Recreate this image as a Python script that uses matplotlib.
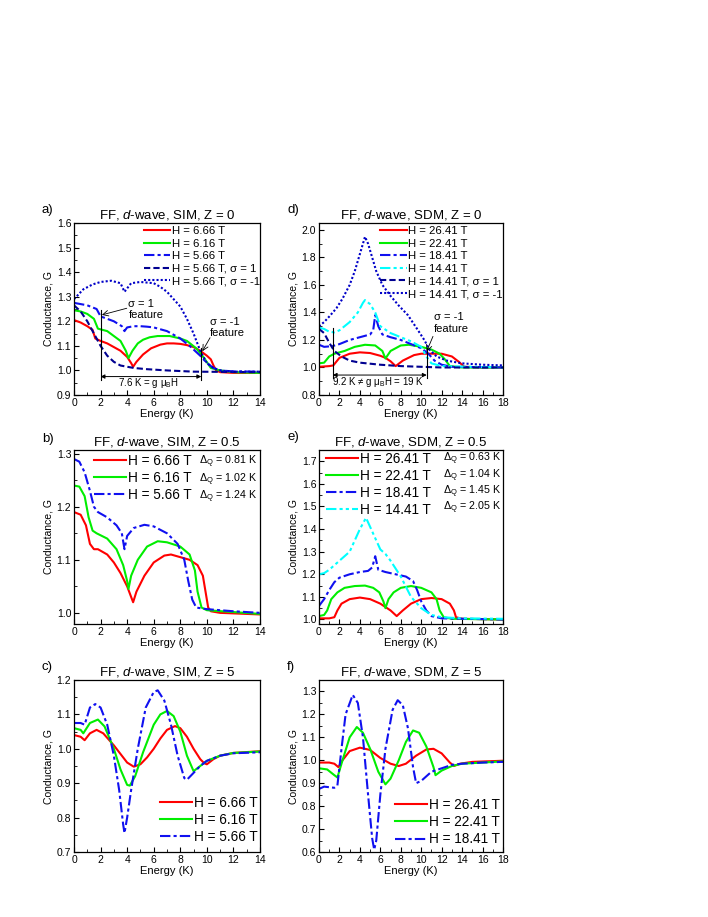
import numpy as np
import matplotlib
matplotlib.use("Agg")
import matplotlib.pyplot as plt
from matplotlib.ticker import MultipleLocator

plt.rcParams['font.family'] = ['Liberation Sans', 'DejaVu Sans']
plt.rcParams['mathtext.fontset'] = 'custom'
plt.rcParams['mathtext.rm'] = 'Liberation Sans'
plt.rcParams['mathtext.it'] = 'Liberation Sans:italic'

# ---------------- data ----------------
# panel a: SIM, Z = 0
a_red_x = [0, 0.5, 1.0, 1.4, 1.6, 2.0, 2.5, 3.0, 3.5, 4.0, 4.3, 4.45, 4.7, 5.2, 5.8, 6.5, 7.0, 7.5, 8.0, 8.5, 9.0, 9.5, 10.0, 10.3, 10.5, 10.7, 11.0, 12, 13, 14]
a_red_y = [1.205, 1.195, 1.18, 1.165, 1.13, 1.12, 1.11, 1.095, 1.08, 1.055, 1.03, 1.015, 1.035, 1.065, 1.09, 1.105, 1.11, 1.11, 1.108, 1.103, 1.095, 1.08, 1.06, 1.045, 1.02, 1.0, 0.993, 0.99, 0.99, 0.99]
a_grn_x = [0, 0.5, 1.0, 1.5, 1.8, 2.5, 3.0, 3.5, 3.9, 4.1, 4.4, 4.8, 5.2, 5.7, 6.3, 7.2, 8.0, 8.5, 9.2, 9.8, 10.3, 11, 12, 14]
a_grn_y = [1.245, 1.24, 1.23, 1.21, 1.17, 1.16, 1.14, 1.12, 1.08, 1.05, 1.08, 1.11, 1.125, 1.135, 1.14, 1.14, 1.13, 1.12, 1.09, 1.05, 1.01, 1.0, 0.993, 0.99]
a_blu_x = [0, 0.5, 1.0, 1.7, 2.0, 2.5, 3.0, 3.6, 3.8, 4.0, 4.5, 5.0, 5.5, 6.0, 7.0, 8.0, 8.7, 9.5, 10.0, 10.5, 11, 12, 14]
a_blu_y = [1.275, 1.27, 1.265, 1.25, 1.22, 1.21, 1.2, 1.18, 1.16, 1.175, 1.18, 1.18, 1.178, 1.175, 1.16, 1.13, 1.1, 1.06, 1.03, 1.01, 1.0, 0.996, 0.995]
a_s1_x = [0, 0.5, 1.0, 1.5, 2.0, 2.5, 3.0, 3.5, 4.5, 5.5, 7.0, 9.0, 14]
a_s1_y = [1.265, 1.24, 1.2, 1.15, 1.1, 1.06, 1.035, 1.02, 1.01, 1.005, 1.0, 0.995, 0.993]
a_sm1_x = [0, 0.7, 1.4, 2.0, 2.8, 3.5, 3.8, 4.3, 5.0, 6.0, 6.5, 7.0, 7.5, 8.0, 8.5, 9.0, 9.5, 10.0, 10.5, 11.0, 12, 14]
a_sm1_y = [1.29, 1.33, 1.35, 1.36, 1.365, 1.355, 1.32, 1.355, 1.36, 1.355, 1.34, 1.32, 1.29, 1.26, 1.21, 1.15, 1.08, 1.03, 1.01, 1.0, 0.995, 0.995]
a_labels = ['H = 6.66 T', 'H = 6.16 T', 'H = 5.66 T', 'H = 5.66 T, σ = 1', 'H = 5.66 T, σ = -1']

# panel d: SDM, Z = 0
d_red_x = [0, 1.0, 1.4, 2.0, 3.0, 4.0, 5.0, 6.0, 6.5, 7.0, 7.5, 8.2, 9.3, 10.0, 11.0, 12.0, 13.0, 13.7, 14.2, 16, 18]
d_red_y = [1.005, 1.01, 1.015, 1.07, 1.1, 1.11, 1.105, 1.085, 1.07, 1.045, 1.01, 1.05, 1.09, 1.1, 1.1, 1.1, 1.08, 1.04, 1.005, 1.0, 1.0]
d_grn_x = [0, 0.5, 1.0, 1.5, 2.5, 3.5, 4.5, 5.5, 6.2, 6.5, 7.0, 8.0, 8.8, 10.0, 11.0, 11.8, 12.3, 12.8, 14, 18]
d_grn_y = [1.03, 1.035, 1.08, 1.1, 1.12, 1.15, 1.165, 1.16, 1.12, 1.065, 1.12, 1.16, 1.165, 1.15, 1.13, 1.1, 1.06, 1.01, 1.0, 1.0]
d_blu_x = [0, 0.5, 1.3, 2.0, 3.0, 4.0, 5.0, 5.3, 5.5, 5.8, 6.2, 7.0, 8.0, 9.0, 10.0, 10.7, 11.3, 12.0, 13.0, 18]
d_blu_y = [1.165, 1.15, 1.155, 1.17, 1.2, 1.22, 1.24, 1.27, 1.38, 1.3, 1.24, 1.22, 1.2, 1.17, 1.14, 1.1, 1.05, 1.02, 1.005, 1.0]
d_cyn_x = [0, 0.5, 1.0, 1.5, 2.0, 3.0, 3.8, 4.3, 4.5, 5.0, 5.5, 6.0, 7.0, 8.0, 9.0, 10.0, 10.5, 11.0, 12.0, 18]
d_cyn_y = [1.29, 1.28, 1.26, 1.255, 1.27, 1.33, 1.4, 1.47, 1.49, 1.46, 1.4, 1.3, 1.25, 1.22, 1.19, 1.15, 1.08, 1.03, 1.01, 1.0]
d_s1_x = [0, 0.5, 1.0, 1.5, 2.2, 3.0, 4.0, 6.0, 8.0, 10.0, 12, 18]
d_s1_y = [1.28, 1.25, 1.18, 1.12, 1.08, 1.05, 1.035, 1.02, 1.01, 1.005, 1.0, 1.0]
d_sm1_x = [0, 0.5, 1.0, 1.7, 2.3, 3.0, 3.5, 3.9, 4.3, 4.5, 4.8, 5.2, 5.6, 6.2, 7.0, 7.8, 8.7, 9.6, 10.3, 10.8, 11.5, 12.5, 14, 16, 18]
d_sm1_y = [1.3, 1.33, 1.37, 1.43, 1.5, 1.6, 1.7, 1.8, 1.9, 1.95, 1.9, 1.8, 1.7, 1.6, 1.52, 1.45, 1.38, 1.28, 1.2, 1.13, 1.08, 1.05, 1.03, 1.02, 1.015]
d_labels = ['H = 26.41 T', 'H = 22.41 T', 'H = 18.41 T', 'H = 14.41 T', 'H = 14.41 T, σ = 1', 'H = 14.41 T, σ = -1']

# panel b: SIM, Z = 0.5
b_red_x = [0, 0.5, 0.9, 1.2, 1.5, 1.8, 2.5, 3.0, 3.5, 4.0, 4.3, 4.45, 4.7, 5.3, 6.0, 6.8, 7.3, 8.0, 8.7, 9.3, 9.7, 9.9, 10.1, 10.3, 11, 14]
b_red_y = [1.19, 1.185, 1.165, 1.13, 1.12, 1.12, 1.11, 1.095, 1.075, 1.05, 1.03, 1.02, 1.04, 1.07, 1.095, 1.108, 1.11, 1.105, 1.1, 1.09, 1.07, 1.04, 1.01, 1.003, 1.0, 0.997]
b_grn_x = [0, 0.4, 0.8, 1.1, 1.4, 1.7, 2.5, 3.2, 3.7, 4.0, 4.1, 4.3, 4.8, 5.5, 6.3, 7.0, 8.0, 8.7, 9.1, 9.3, 9.6, 10.0, 14]
b_grn_y = [1.24, 1.238, 1.22, 1.18, 1.155, 1.15, 1.14, 1.12, 1.09, 1.06, 1.045, 1.07, 1.1, 1.125, 1.135, 1.133, 1.125, 1.11, 1.08, 1.04, 1.01, 1.005, 0.998]
b_blu_x = [0, 0.4, 0.8, 1.2, 1.5, 1.8, 2.5, 3.2, 3.6, 3.8, 4.0, 4.5, 5.3, 6.0, 7.0, 7.8, 8.3, 8.6, 8.9, 9.2, 10.0, 12.0, 14]
b_blu_y = [1.29, 1.285, 1.265, 1.23, 1.2, 1.19, 1.18, 1.165, 1.15, 1.12, 1.145, 1.16, 1.166, 1.163, 1.15, 1.13, 1.1, 1.06, 1.025, 1.01, 1.007, 1.003, 1.0]
b_labels = ['H = 6.66 T', 'H = 6.16 T', 'H = 5.66 T']
b_gaps = ['0.81', '1.02', '1.24']

# panel e: SDM, Z = 0.5
e_red_x = [0, 1.0, 1.5, 1.8, 2.2, 3.0, 4.0, 5.0, 6.0, 7.0, 7.6, 8.2, 9.0, 10.0, 11.0, 12.0, 12.8, 13.2, 13.4, 14.0, 18]
e_red_y = [1.005, 1.005, 1.01, 1.04, 1.07, 1.09, 1.097, 1.09, 1.07, 1.04, 1.015, 1.04, 1.07, 1.09, 1.095, 1.09, 1.07, 1.04, 1.01, 1.003, 1.0]
e_grn_x = [0, 0.5, 0.8, 1.2, 1.8, 2.5, 3.5, 4.5, 5.3, 5.9, 6.3, 6.5, 6.8, 7.3, 8.0, 9.0, 10.0, 11.0, 11.5, 11.8, 12.2, 13.0, 18]
e_grn_y = [1.015, 1.02, 1.04, 1.09, 1.12, 1.14, 1.148, 1.15, 1.14, 1.12, 1.08, 1.05, 1.09, 1.12, 1.14, 1.148, 1.14, 1.12, 1.09, 1.04, 1.01, 1.003, 1.0]
e_blu_x = [0, 0.5, 1.0, 1.5, 2.0, 3.0, 4.0, 4.8, 5.2, 5.5, 5.8, 6.5, 7.5, 8.5, 9.2, 9.6, 10.0, 10.5, 11.0, 12.0, 18]
e_blu_y = [1.06, 1.09, 1.13, 1.165, 1.185, 1.2, 1.21, 1.215, 1.23, 1.28, 1.22, 1.21, 1.2, 1.19, 1.17, 1.13, 1.08, 1.04, 1.015, 1.005, 1.0]
e_cyn_x = [0, 0.5, 1.0, 2.0, 3.0, 4.0, 4.6, 5.2, 6.0, 6.5, 7.0, 8.0, 9.0, 10.0, 11.0, 12.0, 14.0, 18]
e_cyn_y = [1.2, 1.205, 1.22, 1.26, 1.3, 1.4, 1.45, 1.39, 1.31, 1.29, 1.26, 1.19, 1.1, 1.05, 1.02, 1.01, 1.005, 1.003]
e_labels = ['H = 26.41 T', 'H = 22.41 T', 'H = 18.41 T', 'H = 14.41 T']
e_gaps = ['0.63', '1.04', '1.45', '2.05']

# panel c: SIM, Z = 5
c_red_x = [0, 0.5, 0.8, 1.2, 1.7, 2.2, 3.0, 3.5, 4.0, 4.5, 5.0, 5.5, 6.0, 6.5, 7.0, 7.6, 8.0, 8.5, 9.0, 9.5, 9.8, 10.0, 10.5, 11.0, 12.0, 14.0]
c_red_y = [1.04, 1.035, 1.025, 1.045, 1.055, 1.045, 1.01, 0.985, 0.96, 0.948, 0.955, 0.975, 1.0, 1.03, 1.055, 1.066, 1.06, 1.035, 1.0, 0.97, 0.958, 0.955, 0.97, 0.98, 0.988, 0.993]
c_grn_x = [0, 0.5, 0.7, 1.2, 1.8, 2.3, 3.0, 3.5, 4.0, 4.2, 4.6, 5.2, 6.0, 6.5, 7.0, 7.5, 8.0, 8.5, 9.0, 9.5, 10.0, 11.0, 12.0, 14.0]
c_grn_y = [1.06, 1.055, 1.045, 1.075, 1.085, 1.065, 1.0, 0.94, 0.895, 0.893, 0.92, 0.99, 1.07, 1.1, 1.11, 1.095, 1.05, 0.98, 0.935, 0.95, 0.965, 0.98, 0.988, 0.992]
c_blu_x = [0, 0.5, 0.8, 1.2, 1.6, 2.0, 2.5, 3.0, 3.4, 3.7, 3.8, 4.0, 4.3, 4.8, 5.4, 6.0, 6.3, 6.8, 7.3, 7.8, 8.3, 8.5, 9.0, 9.5, 10.0, 11.0, 12.0, 14.0]
c_blu_y = [1.075, 1.075, 1.07, 1.12, 1.13, 1.12, 1.07, 0.98, 0.88, 0.78, 0.755, 0.8, 0.88, 1.0, 1.12, 1.165, 1.17, 1.14, 1.07, 0.98, 0.915, 0.91, 0.93, 0.95, 0.965, 0.98, 0.987, 0.99]

# panel f: SDM, Z = 5
f_red_x = [0, 1.0, 1.5, 1.9, 2.3, 3.0, 4.0, 5.0, 6.0, 7.0, 7.8, 8.5, 9.5, 10.5, 11.2, 12.0, 12.8, 13.2, 13.8, 15.0, 18]
f_red_y = [0.99, 0.99, 0.985, 0.97, 1.0, 1.04, 1.055, 1.045, 1.01, 0.985, 0.975, 0.985, 1.02, 1.047, 1.05, 1.03, 0.99, 0.975, 0.985, 0.993, 0.998]
f_grn_x = [0, 0.8, 1.5, 1.8, 2.3, 3.0, 3.7, 4.3, 5.0, 5.8, 6.5, 7.0, 7.8, 8.5, 9.2, 9.8, 10.5, 11.2, 11.4, 12.0, 13.0, 14.0, 16.0, 18]
f_grn_y = [0.965, 0.96, 0.935, 0.925, 1.0, 1.1, 1.145, 1.12, 1.05, 0.95, 0.895, 0.92, 1.0, 1.08, 1.13, 1.12, 1.06, 0.97, 0.935, 0.955, 0.975, 0.985, 0.99, 0.995]
f_blu_x = [0, 0.5, 1.5, 1.8, 2.2, 2.6, 3.3, 3.8, 4.3, 4.8, 5.2, 5.4, 5.6, 6.0, 6.5, 7.2, 7.7, 8.2, 8.7, 9.2, 9.5, 10.0, 10.5, 11.0, 12.0, 13.0, 14.0, 16.0, 18]
f_blu_y = [0.875, 0.885, 0.88, 0.89, 1.05, 1.2, 1.285, 1.25, 1.1, 0.85, 0.66, 0.61, 0.65, 0.85, 1.05, 1.22, 1.262, 1.24, 1.14, 0.97, 0.9, 0.91, 0.93, 0.95, 0.965, 0.98, 0.985, 0.99, 0.993]

# ---------------- styles ----------------
RED = '#ff0000'
GRN = '#00ee00'
BLU = '#1010f0'
CYN = '#00ffff'
NAVY = '#000090'
DOT = '#0000c8'
LW = 1.5
DASHDOT = (5, 1.5, 1.5, 1.5)
DASHDOTDOT = (5, 1.5, 1.5, 1.5, 1.5, 1.5)
DASH = (3, 1.5)
DOTS = (1, 1)

W, H = 708, 917
fig = plt.figure(figsize=(W / 100, H / 100), dpi=100)


def make_axes(px_left, px_right, px_top, px_bottom):
    return fig.add_axes([px_left / W, 1 - px_bottom / H,
                         (px_right - px_left) / W, (px_bottom - px_top) / H])


def style(ax, xmax, ylim, ymajor, yminor, title, letter, lx, ly):
    ax.set_xlim(0, xmax)
    ax.set_ylim(*ylim)
    ax.xaxis.set_major_locator(MultipleLocator(2))
    ax.xaxis.set_minor_locator(MultipleLocator(1))
    ax.yaxis.set_major_locator(MultipleLocator(ymajor))
    ax.yaxis.set_minor_locator(MultipleLocator(yminor))
    ax.tick_params(which='both', direction='in', top=False, right=False, labelsize=7.5, pad=2)
    ax.tick_params(which='major', length=3.5, width=0.8)
    ax.tick_params(which='minor', length=2, width=0.6)
    for s in ax.spines.values():
        s.set_linewidth(0.9)
    ax.set_xlabel('Energy (K)', fontsize=8, labelpad=1)
    ax.set_ylabel('Conductance, G', fontsize=7.5, labelpad=2)
    ax.set_title(title, fontsize=9.5, pad=3)
    fig.text(lx / W, 1 - ly / H, letter, fontsize=9.5, ha='left', va='center')


def small_legend(ax):
    ax.legend(loc='upper right', bbox_to_anchor=(1.0, 0.983), frameon=False, fontsize=8.2,
              handlelength=2.3, handletextpad=0.15, labelspacing=0.23,
              borderaxespad=0, borderpad=0)


def big_legend(ax, loc, anchor):
    ax.legend(loc=loc, bbox_to_anchor=anchor, frameon=False, fontsize=9.8,
              handlelength=2.35, handletextpad=0.17, labelspacing=0.23,
              borderaxespad=0, borderpad=0)


col1 = (74, 260)
col2 = (319, 503)
row1 = (223, 395)
row2 = (450, 624)
row3 = (680, 852)
arrow_kw = dict(arrowstyle='->', lw=0.6, color='k', shrinkA=0, shrinkB=0)
span_kw = dict(arrowstyle='<|-|>', lw=0.7, color='k', mutation_scale=6, shrinkA=0, shrinkB=0)

# ---------------- a ----------------
ax = make_axes(col1[0], col1[1], row1[0], row1[1])
ax.plot(a_red_x, a_red_y, color=RED, lw=LW, label=a_labels[0])
ax.plot(a_grn_x, a_grn_y, color=GRN, lw=LW, label=a_labels[1])
ax.plot(a_blu_x, a_blu_y, color=BLU, lw=LW, dashes=DASHDOT, label=a_labels[2])
ax.plot(a_s1_x, a_s1_y, color=NAVY, lw=LW, dashes=DASH, label=a_labels[3])
ax.plot(a_sm1_x, a_sm1_y, color=DOT, lw=LW, dashes=DOTS, label=a_labels[4])
style(ax, 14, (0.9, 1.6), 0.1, 0.05, 'FF, $\\it{d}$-wave, SIM, Z = 0', 'a)', 42, 210)
small_legend(ax)
ax.plot([2.0, 2.0], [0.96, 1.245], color='k', lw=0.8)
ax.plot([9.58, 9.58], [0.96, 1.09], color='k', lw=0.8)
ax.annotate('', xy=(2.0, 0.975), xytext=(9.58, 0.975), arrowprops=span_kw)
ax.text(5.6, 0.948, '7.6 K = g μ$_\\mathrm{B}$H', fontsize=7, ha='center', va='center')
ax.text(4.09, 1.247, 'σ = 1\nfeature', fontsize=8, ha='left', va='center', linespacing=1.12)
ax.annotate('', xy=(2.1, 1.226), xytext=(3.97, 1.253), arrowprops=arrow_kw)
ax.text(10.24, 1.176, 'σ = -1\nfeature', fontsize=8, ha='left', va='center', linespacing=1.12)
ax.annotate('', xy=(9.66, 1.078), xytext=(10.24, 1.133), arrowprops=arrow_kw)

# ---------------- d ----------------
ax = make_axes(col2[0], col2[1], row1[0], row1[1])
ax.plot(d_red_x, d_red_y, color=RED, lw=LW, label=d_labels[0])
ax.plot(d_grn_x, d_grn_y, color=GRN, lw=LW, label=d_labels[1])
ax.plot(d_blu_x, d_blu_y, color=BLU, lw=LW, dashes=DASHDOT, label=d_labels[2])
ax.plot(d_cyn_x, d_cyn_y, color=CYN, lw=LW, dashes=DASHDOTDOT, label=d_labels[3])
ax.plot(d_s1_x, d_s1_y, color=NAVY, lw=LW, dashes=DASH, label=d_labels[4])
ax.plot(d_sm1_x, d_sm1_y, color=DOT, lw=LW, dashes=DOTS, label=d_labels[5])
style(ax, 18, (0.8, 2.05), 0.2, 0.1, 'FF, $\\it{d}$-wave, SDM, Z = 0', 'd)', 287, 210)
small_legend(ax)
ax.plot([1.34, 1.34], [0.92, 1.29], color='k', lw=0.8)
ax.plot([10.54, 10.54], [0.92, 1.145], color='k', lw=0.8)
ax.annotate('', xy=(1.34, 0.945), xytext=(10.54, 0.945), arrowprops=span_kw)
ax.text(5.8, 0.895, '9.2 K ≠ g μ$_\\mathrm{B}$H = 19 K', fontsize=7, ha='center', va='center')
ax.text(11.25, 1.321, 'σ = -1\nfeature', fontsize=8, ha='left', va='center', linespacing=1.25)
ax.annotate('', xy=(10.53, 1.117), xytext=(11.15, 1.226), arrowprops=arrow_kw)

# ---------------- b ----------------
ax = make_axes(col1[0], col1[1], row2[0], row2[1])
ax.plot(b_red_x, b_red_y, color=RED, lw=LW, label=b_labels[0])
ax.plot(b_grn_x, b_grn_y, color=GRN, lw=LW, label=b_labels[1])
ax.plot(b_blu_x, b_blu_y, color=BLU, lw=LW, dashes=DASHDOT, label=b_labels[2])
style(ax, 14, (0.979, 1.307), 0.1, 0.05, 'FF, $\\it{d}$-wave, SIM, Z = 0.5', 'b)', 42, 439)
big_legend(ax, 'upper left', (0.107, 0.977))
for i, g in enumerate(b_gaps):
    ax.text(9.41, 1.284 - 0.033 * i, 'Δ$_\\mathrm{Q}$ = ' + g + ' K', fontsize=7.7,
            ha='left', va='center')

# ---------------- e ----------------
ax = make_axes(col2[0], col2[1], row2[0], row2[1])
ax.plot(e_red_x, e_red_y, color=RED, lw=LW, label=e_labels[0])
ax.plot(e_grn_x, e_grn_y, color=GRN, lw=LW, label=e_labels[1])
ax.plot(e_blu_x, e_blu_y, color=BLU, lw=LW, dashes=DASHDOT, label=e_labels[2])
ax.plot(e_cyn_x, e_cyn_y, color=CYN, lw=LW, dashes=DASHDOTDOT, label=e_labels[3])
style(ax, 18, (0.98, 1.75), 0.1, 0.05, 'FF, $\\it{d}$-wave, SDM, Z = 0.5', 'e)', 287, 437)
big_legend(ax, 'upper left', (0.038, 0.99))
for i, g in enumerate(e_gaps):
    ax.text(12.1, 1.71 - 0.0725 * i, 'Δ$_\\mathrm{Q}$ = ' + g + ' K', fontsize=7.7,
            ha='left', va='center')

# ---------------- c ----------------
ax = make_axes(col1[0], col1[1], row3[0], row3[1])
ax.plot(c_red_x, c_red_y, color=RED, lw=LW, label=b_labels[0])
ax.plot(c_grn_x, c_grn_y, color=GRN, lw=LW, label=b_labels[1])
ax.plot(c_blu_x, c_blu_y, color=BLU, lw=LW, dashes=DASHDOT, label=b_labels[2])
style(ax, 14, (0.7, 1.2), 0.1, 0.05, 'FF, $\\it{d}$-wave, SIM, Z = 5', 'c)', 42, 667)
big_legend(ax, 'lower right', (0.989, 0.045))

# ---------------- f ----------------
ax = make_axes(col2[0], col2[1], row3[0], row3[1])
ax.plot(f_red_x, f_red_y, color=RED, lw=LW, label=e_labels[0])
ax.plot(f_grn_x, f_grn_y, color=GRN, lw=LW, label=e_labels[1])
ax.plot(f_blu_x, f_blu_y, color=BLU, lw=LW, dashes=DASHDOT, label=e_labels[2])
style(ax, 18, (0.6, 1.35), 0.1, 0.05, 'FF, $\\it{d}$-wave, SDM, Z = 5', 'f)', 287, 667)
big_legend(ax, 'lower right', (0.984, 0.033))

fig.savefig('out.png', dpi=100)
